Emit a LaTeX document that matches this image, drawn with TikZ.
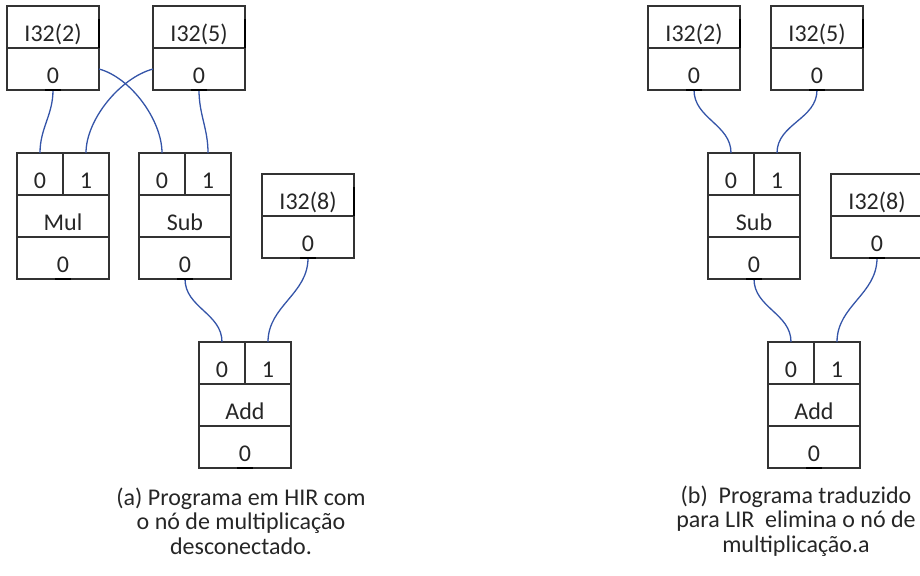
\documentclass[tikz,border=0pt]{standalone}
\usepackage{fontspec}
\setmainfont{Carlito}
\usetikzlibrary{positioning}

\definecolor{wireblue}{RGB}{52,84,168}
\definecolor{boxgray}{RGB}{51,51,51}

\tikzset{
  cell/.style={draw=boxgray,line width=0.7pt,outer sep=0pt,inner sep=0pt,
    minimum height=21pt,text height=14pt,text depth=0pt,text=black!85,
    font=\fontsize{12}{12}\selectfont},
  wide/.style={cell,minimum width=46pt},
  half/.style={cell,minimum width=23pt},
  wire/.style={wireblue,line width=0.65pt},
  port/.style={black,line width=1.4pt},
  caption/.style={align=center,text=black!85,font=\fontsize{12}{12.25}\selectfont},
}

\begin{document}
\begin{tikzpicture}[x=0.5pt,y=-0.5pt]
\useasboundingbox (0,0) rectangle (920,575);

% (a) program in HIR
\node[wide,anchor=north west] (a2h) at (7,6) {I32(2)};
\node[wide,below=0pt of a2h] (a2o) {0};
\node[wide,anchor=north west] (a5h) at (153,6) {I32(5)};
\node[wide,below=0pt of a5h] (a5o) {0};

\node[half,anchor=north west] (amul0) at (17,153) {0};
\node[half,right=0pt of amul0] (amul1) {1};
\node[wide,below=0pt of amul0.south east] (amul) {Mul};
\node[wide,below=0pt of amul] (amulo) {0};

\node[half,anchor=north west] (asub0) at (139,153) {0};
\node[half,right=0pt of asub0] (asub1) {1};
\node[wide,below=0pt of asub0.south east] (asub) {Sub};
\node[wide,below=0pt of asub] (asubo) {0};

\node[wide,anchor=north west] (a8h) at (262,174) {I32(8)};
\node[wide,below=0pt of a8h] (a8o) {0};

\node[half,anchor=north west] (aadd0) at (199,342) {0};
\node[half,right=0pt of aadd0] (aadd1) {1};
\node[wide,below=0pt of aadd0.south east] (aadd) {Add};
\node[wide,below=0pt of aadd] (aaddo) {0};

\draw[wire] (a2o.south) to[out=270,in=90] (amul0.north);
\draw[wire] (a5o.west) to[out=195,in=90,looseness=0.8] (amul1.north);
\draw[wire] (a2o.east) to[out=-15,in=90,looseness=0.8] (asub0.north);
\draw[wire] (a5o.south) to[out=270,in=90] (asub1.north);
\draw[wire] (asubo.south) to[out=270,in=90] (aadd0.north);
\draw[wire] (a8o.south) to[out=270,in=90] (aadd1.north);

\node[caption] (capa) at (241,521) {(a) Programa em HIR com\\o nó de multiplicação\\desconectado.};

% (b) program translated to LIR
\node[wide,anchor=north west] (b2h) at (648,6) {I32(2)};
\node[wide,below=0pt of b2h] (b2o) {0};
\node[wide,anchor=north west] (b5h) at (771,6) {I32(5)};
\node[wide,below=0pt of b5h] (b5o) {0};

\node[half,anchor=north west] (bsub0) at (708,153) {0};
\node[half,right=0pt of bsub0] (bsub1) {1};
\node[wide,below=0pt of bsub0.south east] (bsub) {Sub};
\node[wide,below=0pt of bsub] (bsubo) {0};

\node[wide,anchor=north west] (b8h) at (831,174) {I32(8)};
\node[wide,below=0pt of b8h] (b8o) {0};

\node[half,anchor=north west] (badd0) at (768,342) {0};
\node[half,right=0pt of badd0] (badd1) {1};
\node[wide,below=0pt of badd0.south east] (badd) {Add};
\node[wide,below=0pt of badd] (baddo) {0};

\draw[wire] (b2o.south) to[out=270,in=90] (bsub0.north);
\draw[wire] (b5o.south) to[out=270,in=90] (bsub1.north);
\draw[wire] (bsubo.south) to[out=270,in=90] (badd0.north);
\draw[wire] (b8o.south) to[out=270,in=90] (badd1.north);

\node[caption] (capb) at (796,521) {(b)\ \ Programa traduzido\\para LIR\ \ elimina o nó de\\multiplicação.a};

% port marks
\foreach \n in {a2h,a5h,a8h,b2h,b5h,b8h}
  \draw[port] ([yshift=-6.5pt]\n.north east) -- (\n.south east);
\foreach \n in {a2o,a5o,amulo,asubo,a8o,aaddo,b2o,b5o,bsubo,b8o,baddo}
  \draw[port] ([xshift=-4pt]\n.south) -- ([xshift=4pt]\n.south);
\end{tikzpicture}
\end{document}
